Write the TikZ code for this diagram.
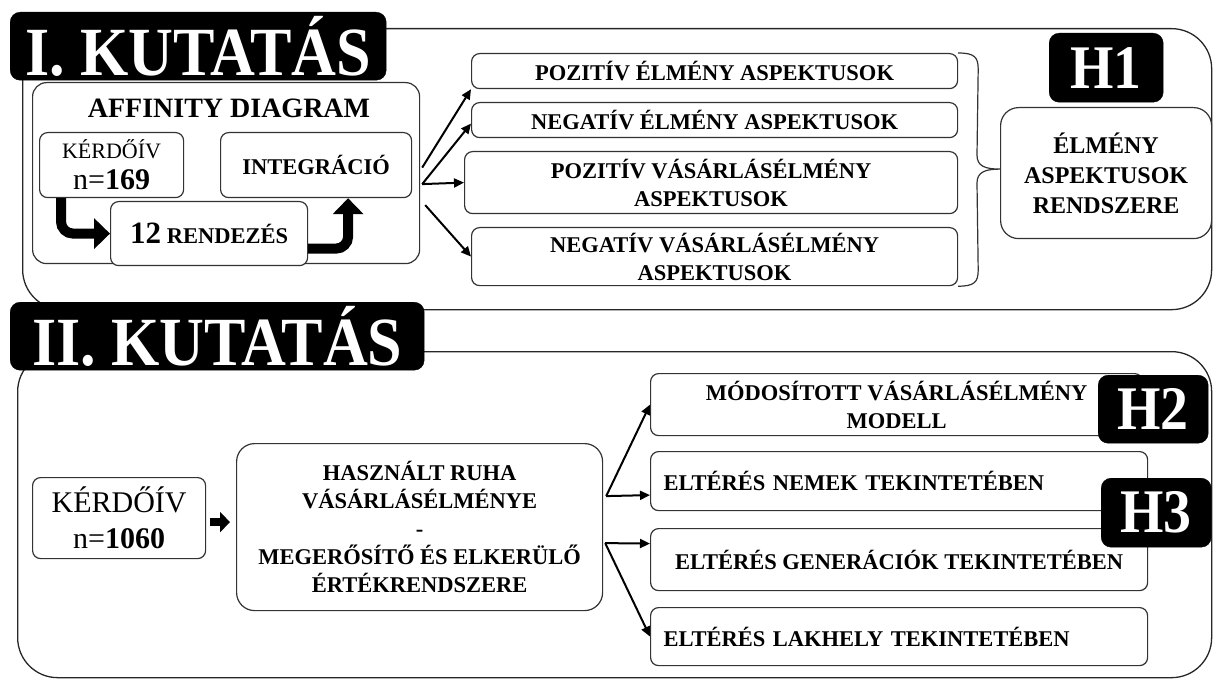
\documentclass[tikz,border=0pt]{standalone}
\usepackage{fontspec}
\setmainfont{Liberation Serif}[BoldFont={Liberation Serif Bold}]
\newfontfamily\titlefont{Liberation Serif Bold}[FakeStretch=0.9]
\usetikzlibrary{arrows.meta,calc}
\begin{document}
\begin{tikzpicture}[
  x=1pt, y=-1pt,
  box/.style={draw=black!80, line width=1.2pt, rounded corners=8pt, fill=white, align=center,
    inner sep=0pt, anchor=north west, font=\bfseries\fontsize{22.5}{28}\selectfont},
  lbox/.style={box, align=left, inner xsep=13pt},
  blackbox/.style={fill=black, draw=black, rounded corners=10pt, text=white, anchor=north west,
    inner sep=0pt, font=\titlefont\fontsize{69}{69}\selectfont},
  hbox/.style={blackbox, font=\titlefont\fontsize{62}{62}\selectfont},
  outerbox/.style={draw=black!85, line width=1.3pt, rounded corners=40pt, anchor=north west, inner sep=0pt},
  conn/.style={-{Triangle[length=10pt,width=9pt]}, line width=2pt, black},
  bigarrow/.style={-{Triangle[length=16pt,width=30pt]}, line width=10pt, rounded corners=12pt, black},
  midarrow/.style={-{Triangle[length=10pt,width=20pt]}, line width=8pt, black},
  bracestyle/.style={draw=black!80, line width=1.2pt}
]
\useasboundingbox (0,0) rectangle (1213,679);

% ---------- Section I ----------
\node[outerbox, minimum width=1189pt, minimum height=281pt] (sec1) at (22,28) {};
\node[blackbox, minimum width=376pt, minimum height=68pt] (t1) at (10,12) {I. KUTATÁS};

\node[box, rounded corners=14pt, minimum width=387pt, minimum height=181pt] (aff) at (32,82) {};
\node[font=\bfseries\fontsize{28}{28}\selectfont] (afft) at (229,108) {AFFINITY DIAGRAM};
\node[box, minimum width=144pt, minimum height=65pt, font=\fontsize{22}{26}\selectfont] (k1) at (39,132)
  {KÉRDŐÍV\\[5pt]{\fontsize{30}{30}\selectfont n=\textbf{169}}};
\node[box, minimum width=191pt, minimum height=65pt] (integ) at (220,132) {INTEGRÁCIÓ};
\node[box, minimum width=197pt, minimum height=64pt] (r12) at (110,201)
  {{\fontsize{31}{31}\selectfont 12} RENDEZÉS};

\draw[bigarrow] ([xshift=22pt]k1.south west) |- (r12.west);
\draw[bigarrow] ([yshift=-15pt]r12.east) -| ([xshift=32pt]integ.south);

\node[box, minimum width=486pt, minimum height=35pt] (p1) at (471,53) {POZITÍV ÉLMÉNY ASPEKTUSOK};
\node[box, minimum width=486pt, minimum height=35pt] (n1) at (471,102) {NEGATÍV ÉLMÉNY ASPEKTUSOK};
\node[box, minimum width=493pt, minimum height=62pt] (p2) at (464,151) {POZITÍV VÁSÁRLÁSÉLMÉNY\\ASPEKTUSOK};
\node[box, minimum width=486pt, minimum height=58pt] (n2) at (471,227) {NEGATÍV VÁSÁRLÁSÉLMÉNY\\ASPEKTUSOK};

\draw[conn] ([xshift=2pt,yshift=5.5pt]aff.east) -- (p1.south west);
\draw[conn] ([xshift=2pt,yshift=-11pt]aff.east) -- ([yshift=-3.5pt]n1.west);
\draw[conn] ([xshift=2pt,yshift=-11pt]aff.east) -- (p2.west);
\draw[conn] ([xshift=5pt,yshift=-32pt]aff.east) -- (n2.west);

\node[hbox, minimum width=114pt, minimum height=69pt] (h1) at (1049,33) {H1};
\node[box, rounded corners=18pt, minimum width=211pt, minimum height=131pt, font=\bfseries\fontsize{24}{30}\selectfont] (el) at (1000,107)
  {ÉLMÉNY\\ASPEKTUSOK\\RENDSZERE};

\coordinate (bt) at (p1.north east);
\coordinate (bb) at (n2.south east);
\coordinate (tip) at ([yshift=4pt]el.west);
\draw[bracestyle] (bt) .. controls ($(bt)+(16,0)$) and ($(bt)+(20,4)$) .. ($(bt)+(20,16)$)
  -- ($(tip)+(-23,-14)$) .. controls ($(tip)+(-23,-3)$) and ($(tip)+(-15,0)$) .. (tip)
  .. controls ($(tip)+(-15,0)$) and ($(tip)+(-23,3)$) .. ($(tip)+(-23,14)$)
  -- ($(bb)+(20,-16)$) .. controls ($(bb)+(20,-4)$) and ($(bb)+(16,0)$) .. (bb);

% ---------- Section II ----------
\node[outerbox, minimum width=1194pt, minimum height=326pt] (sec2) at (17,351) {};
\node[blackbox, minimum width=414pt, minimum height=68pt] (t2) at (10,302) {II. KUTATÁS};

\node[box, minimum width=173pt, minimum height=81pt, font=\fontsize{30}{36}\selectfont] (k2) at (32,477)
  {KÉRDŐÍV\\n=\textbf{1060}};
\node[box, rounded corners=18pt, minimum width=366pt, minimum height=167pt] (big) at (236,443)
  {HASZNÁLT RUHA\\VÁSÁRLÁSÉLMÉNYE\\-\\MEGERŐSÍTŐ ÉS ELKERÜLŐ\\ÉRTÉKRENDSZERE};
\draw[midarrow] ([xshift=4pt,yshift=-4pt]k2.east) -- ([xshift=-6pt,yshift=-4pt]k2.east -| big.west);

\node[box, minimum width=492pt, minimum height=62pt] (m) at (650,373) {MÓDOSÍTOTT VÁSÁRLÁSÉLMÉNY\\MODELL};
\node[lbox, text width=471pt, minimum height=59pt] (e1) at (650,451) {ELTÉRÉS NEMEK TEKINTETÉBEN};
\node[box, minimum width=497pt, minimum height=62pt] (e2) at (650,528) {ELTÉRÉS GENERÁCIÓK TEKINTETÉBEN};
\node[lbox, text width=471pt, minimum height=58pt] (e3) at (650,607) {ELTÉRÉS LAKHELY TEKINTETÉBEN};

\draw[conn] ([xshift=3pt,yshift=31pt]big.east) -- (m.west);
\draw[conn] ([xshift=3pt,yshift=31pt]big.east) -- ([yshift=-14pt]e1.west);
\draw[conn] ([xshift=2pt,yshift=-16pt]big.east) -- ([yshift=16pt]e2.west);
\draw[conn] ([xshift=2pt,yshift=-16pt]big.east) -- (e3.west);

\node[hbox, minimum width=110pt, minimum height=68pt] (h2) at (1098,375) {H2};
\node[hbox, minimum width=110pt, minimum height=69pt] (h3) at (1101,478) {H3};
\end{tikzpicture}
\end{document}
